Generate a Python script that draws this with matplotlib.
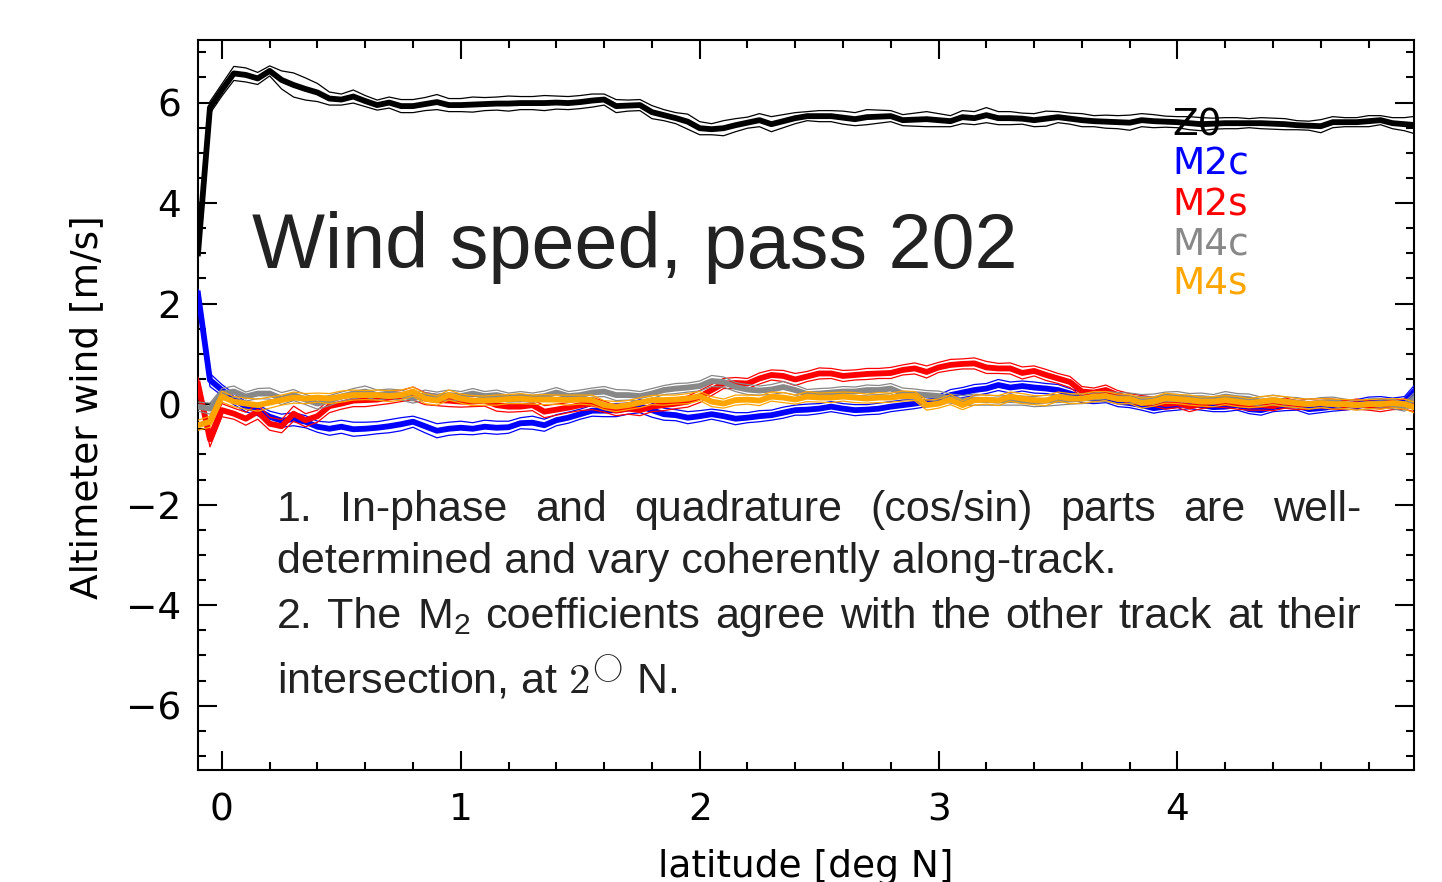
import numpy as np
import matplotlib
matplotlib.use("Agg")
import matplotlib.pyplot as plt
from matplotlib.ticker import MultipleLocator

# ---------------- data (latitude grid every 0.05 deg, -0.1 .. 5.0) ----------------
lat = np.linspace(-0.1, 5.0, 103)

z0 = [3.0, 5.9, 6.25, 6.58, 6.55, 6.48, 6.63, 6.45, 6.35, 6.27,
      6.2, 6.08, 6.06, 6.12, 6.03, 5.95, 6.0, 5.93, 5.93, 5.97,
      6.01, 5.95, 5.95, 5.96, 5.97, 5.98, 5.98, 5.99, 5.99, 5.99,
      6.0, 5.99, 6.01, 6.04, 6.06, 5.93, 5.94, 5.95, 5.81, 5.75,
      5.69, 5.62, 5.49, 5.47, 5.49, 5.55, 5.6, 5.65, 5.57, 5.63,
      5.69, 5.73, 5.73, 5.73, 5.7, 5.67, 5.71, 5.72, 5.73, 5.65,
      5.66, 5.67, 5.65, 5.63, 5.71, 5.69, 5.75, 5.69, 5.69, 5.68,
      5.65, 5.68, 5.71, 5.68, 5.65, 5.63, 5.62, 5.61, 5.6, 5.65,
      5.63, 5.62, 5.61, 5.59, 5.57, 5.58, 5.59, 5.59, 5.59, 5.59,
      5.58, 5.57, 5.55, 5.54, 5.53, 5.61, 5.61, 5.61, 5.63, 5.65,
      5.59, 5.57, 5.55]
m2c = [2.2, 0.48, 0.28, 0.1, -0.05, -0.12, -0.25, -0.33, -0.3, -0.35,
       -0.45, -0.49, -0.45, -0.5, -0.49, -0.47, -0.44, -0.4, -0.35, -0.44,
       -0.53, -0.49, -0.47, -0.49, -0.45, -0.47, -0.46, -0.38, -0.37, -0.42,
       -0.32, -0.27, -0.2, -0.13, -0.13, -0.12, -0.09, -0.04, -0.12, -0.2,
       -0.22, -0.27, -0.24, -0.2, -0.24, -0.29, -0.27, -0.24, -0.22, -0.17,
       -0.12, -0.11, -0.09, -0.05, -0.09, -0.12, -0.11, -0.09, -0.05, -0.02,
       0.01, 0.05, 0.08, 0.18, 0.23, 0.28, 0.31, 0.38, 0.33, 0.36,
       0.33, 0.31, 0.28, 0.21, 0.13, 0.11, 0.13, 0.05, 0.02, -0.02,
       -0.08, -0.05, -0.02, 0.0, -0.02, -0.06, -0.05, -0.02, -0.1, -0.12,
       -0.06, -0.03, -0.03, -0.1, -0.08, -0.05, -0.02, 0.0, 0.05, 0.05,
       0.03, 0.05, 0.3]
m2s = [0.4, -0.7, -0.12, -0.19, -0.29, -0.15, -0.39, -0.44, -0.19, -0.32,
       -0.24, -0.04, 0.01, 0.07, 0.08, 0.09, 0.13, 0.16, 0.21, 0.11,
       0.08, 0.07, 0.05, 0.05, 0.07, -0.02, -0.05, -0.05, -0.02, -0.15,
       -0.11, -0.07, -0.02, 0.01, -0.05, -0.13, -0.09, -0.12, -0.05, -0.02,
       0.01, 0.05, 0.15, 0.28, 0.41, 0.42, 0.41, 0.51, 0.58, 0.56,
       0.49, 0.55, 0.61, 0.61, 0.56, 0.58, 0.6, 0.61, 0.62, 0.68,
       0.71, 0.64, 0.73, 0.78, 0.8, 0.81, 0.73, 0.71, 0.71, 0.62,
       0.66, 0.58, 0.51, 0.44, 0.25, 0.23, 0.28, 0.18, 0.11, 0.08,
       0.05, 0.0, 0.02, -0.05, 0.0, 0.05, 0.02, 0.0, -0.03, -0.02,
       -0.04, 0.02, -0.02, 0.0, 0.02, 0.0, -0.02, 0.0, -0.03, -0.05,
       -0.02, 0.0, -0.05]
m4c = [-0.05, -0.09, 0.21, 0.25, 0.15, 0.21, 0.21, 0.11, 0.18, 0.09,
       0.01, 0.07, 0.15, 0.21, 0.25, 0.18, 0.21, 0.18, 0.11, 0.18,
       0.15, 0.18, 0.16, 0.21, 0.16, 0.18, 0.13, 0.15, 0.13, 0.16,
       0.23, 0.16, 0.18, 0.23, 0.25, 0.18, 0.18, 0.16, 0.21, 0.28,
       0.31, 0.33, 0.36, 0.46, 0.44, 0.34, 0.29, 0.27, 0.29, 0.34,
       0.28, 0.2, 0.21, 0.23, 0.25, 0.25, 0.28, 0.28, 0.31, 0.21,
       0.2, 0.18, 0.16, 0.11, 0.07, 0.09, 0.08, 0.07, 0.08, 0.07,
       0.05, 0.07, 0.08, 0.09, 0.11, 0.13, 0.15, 0.12, 0.12, 0.1,
       0.1, 0.15, 0.15, 0.12, 0.12, 0.1, 0.15, 0.12, 0.1, 0.05,
       0.08, 0.05, 0.03, 0.0, 0.03, 0.05, 0.0, -0.02, 0.0, 0.02,
       0.0, -0.05, 0.15]
m4s = [-0.42, -0.35, 0.15, 0.05, 0.01, -0.02, 0.03, 0.08, 0.13, 0.11,
       0.13, 0.11, 0.15, 0.18, 0.18, 0.18, 0.16, 0.18, 0.25, 0.11,
       0.07, 0.18, 0.11, 0.07, 0.07, 0.08, 0.1, 0.11, 0.09, 0.09,
       0.09, 0.08, 0.09, 0.08, -0.02, -0.05, -0.02, 0.03, 0.08, 0.08,
       0.09, 0.11, 0.16, 0.05, 0.01, 0.08, 0.09, 0.07, 0.15, 0.13,
       0.09, 0.15, 0.13, 0.13, 0.15, 0.13, 0.11, 0.13, 0.13, 0.16,
       0.16, -0.02, 0.01, 0.09, -0.02, 0.08, 0.09, 0.07, 0.15, 0.11,
       0.08, 0.07, 0.15, 0.11, 0.11, 0.15, 0.16, 0.1, 0.1, 0.02,
       0.05, 0.12, 0.1, 0.08, 0.05, 0.05, 0.08, 0.05, 0.02, 0.05,
       0.08, 0.05, 0.02, 0.0, 0.02, 0.0, 0.0, -0.02, 0.0, 0.0,
       0.02, 0.0, -0.08]

# half-width of the thin bounding lines
sp_z0 = [0.06, 0.12, 0.12, 0.14, 0.14, 0.12, 0.1, 0.18, 0.24, 0.22,
         0.18, 0.13, 0.11, 0.13, 0.11, 0.1, 0.11, 0.13, 0.13, 0.13,
         0.15, 0.13, 0.13, 0.15, 0.13, 0.13, 0.15, 0.13, 0.13, 0.15,
         0.13, 0.13, 0.13, 0.13, 0.11, 0.13, 0.11, 0.11, 0.13, 0.11,
         0.11, 0.15, 0.13, 0.11, 0.15, 0.13, 0.11, 0.13, 0.15, 0.13,
         0.11, 0.09, 0.11, 0.11, 0.13, 0.13, 0.15, 0.13, 0.11, 0.11,
         0.13, 0.15, 0.13, 0.11, 0.13, 0.13, 0.15, 0.13, 0.13, 0.11,
         0.13, 0.15, 0.11, 0.11, 0.13, 0.11, 0.13, 0.13, 0.15, 0.13,
         0.13, 0.11, 0.11, 0.13, 0.13, 0.11, 0.11, 0.11, 0.09, 0.11,
         0.11, 0.11, 0.09, 0.09, 0.13, 0.11, 0.09, 0.09, 0.11, 0.09,
         0.11, 0.13, 0.18]
sp_m2c = [0.08, 0.13, 0.11, 0.11, 0.1, 0.11, 0.11, 0.13, 0.13, 0.12,
          0.11, 0.13, 0.13, 0.14, 0.13, 0.12, 0.13, 0.13, 0.11, 0.13,
          0.14, 0.13, 0.13, 0.12, 0.13, 0.13, 0.12, 0.11, 0.13, 0.12,
          0.11, 0.11, 0.1, 0.11, 0.12, 0.13, 0.11, 0.13, 0.14, 0.12,
          0.11, 0.12, 0.11, 0.1, 0.11, 0.12, 0.1, 0.11, 0.1, 0.11,
          0.1, 0.11, 0.1, 0.1, 0.1, 0.11, 0.1, 0.11, 0.1, 0.1,
          0.1, 0.1, 0.1, 0.11, 0.1, 0.11, 0.1, 0.11, 0.11, 0.1,
          0.11, 0.1, 0.11, 0.1, 0.1, 0.1, 0.1, 0.1, 0.09, 0.1,
          0.1, 0.09, 0.1, 0.09, 0.1, 0.09, 0.1, 0.1, 0.09, 0.1,
          0.09, 0.1, 0.09, 0.1, 0.09, 0.09, 0.1, 0.09, 0.09, 0.1,
          0.09, 0.1, 0.12]
sp_m2s = [0.13, 0.15, 0.13, 0.11, 0.13, 0.15, 0.13, 0.13, 0.15, 0.13,
          0.12, 0.13, 0.11, 0.12, 0.13, 0.11, 0.12, 0.11, 0.13, 0.12,
          0.11, 0.12, 0.11, 0.1, 0.11, 0.12, 0.11, 0.1, 0.11, 0.12,
          0.11, 0.1, 0.11, 0.12, 0.11, 0.1, 0.11, 0.11, 0.1, 0.11,
          0.1, 0.11, 0.12, 0.11, 0.1, 0.11, 0.1, 0.11, 0.1, 0.11,
          0.12, 0.1, 0.11, 0.1, 0.11, 0.1, 0.11, 0.1, 0.11, 0.1,
          0.11, 0.12, 0.1, 0.11, 0.1, 0.11, 0.12, 0.1, 0.11, 0.12,
          0.1, 0.11, 0.1, 0.11, 0.1, 0.09, 0.1, 0.09, 0.1, 0.09,
          0.09, 0.1, 0.09, 0.1, 0.09, 0.1, 0.09, 0.1, 0.09, 0.1,
          0.09, 0.1, 0.09, 0.1, 0.09, 0.1, 0.09, 0.1, 0.09, 0.1,
          0.09, 0.1, 0.11]
sp_m4c = [0.09, 0.11, 0.1, 0.11, 0.09, 0.1, 0.11, 0.12, 0.11, 0.1,
          0.11, 0.1, 0.09, 0.1, 0.11, 0.1, 0.09, 0.1, 0.09, 0.1,
          0.09, 0.1, 0.09, 0.1, 0.09, 0.1, 0.09, 0.1, 0.09, 0.1,
          0.1, 0.09, 0.1, 0.09, 0.1, 0.11, 0.1, 0.09, 0.1, 0.09,
          0.1, 0.09, 0.1, 0.11, 0.1, 0.09, 0.1, 0.09, 0.1, 0.11,
          0.1, 0.09, 0.1, 0.09, 0.1, 0.09, 0.1, 0.09, 0.1, 0.11,
          0.1, 0.09, 0.1, 0.09, 0.1, 0.11, 0.1, 0.09, 0.1, 0.09,
          0.1, 0.11, 0.1, 0.09, 0.1, 0.09, 0.1, 0.11, 0.1, 0.09,
          0.1, 0.09, 0.1, 0.09, 0.1, 0.09, 0.1, 0.09, 0.1, 0.09,
          0.1, 0.09, 0.1, 0.09, 0.1, 0.09, 0.1, 0.09, 0.1, 0.09,
          0.09, 0.09, 0.11]
sp_m4s = [0.1, 0.11, 0.11, 0.1, 0.11, 0.12, 0.11, 0.1, 0.11, 0.1,
          0.09, 0.1, 0.11, 0.1, 0.09, 0.1, 0.11, 0.1, 0.09, 0.1,
          0.09, 0.1, 0.09, 0.1, 0.09, 0.1, 0.09, 0.1, 0.09, 0.1,
          0.09, 0.1, 0.09, 0.1, 0.09, 0.1, 0.09, 0.1, 0.09, 0.1,
          0.09, 0.1, 0.09, 0.1, 0.09, 0.1, 0.09, 0.1, 0.09, 0.1,
          0.09, 0.1, 0.09, 0.1, 0.09, 0.1, 0.09, 0.1, 0.09, 0.1,
          0.09, 0.1, 0.09, 0.1, 0.09, 0.1, 0.09, 0.1, 0.09, 0.1,
          0.09, 0.1, 0.09, 0.1, 0.09, 0.1, 0.09, 0.1, 0.09, 0.1,
          0.09, 0.1, 0.09, 0.1, 0.09, 0.1, 0.09, 0.1, 0.09, 0.1,
          0.09, 0.1, 0.09, 0.1, 0.09, 0.1, 0.09, 0.1, 0.09, 0.1,
          0.09, 0.1, 0.11]

names = ["Z0", "M2c", "M2s", "M4c", "M4s"]
series = [z0, m2c, m2s, m4c, m4s]
spreads = [sp_z0, sp_m2c, sp_m2s, sp_m4c, sp_m4s]
colors = ["black", "#0000ff", "#ff0000", "#888888", "#ffa500"]

title_text = "Wind speed, pass 202"
note_line1 = ["1.", "In-phase", "and", "quadrature", "(cos/sin)", "parts", "are", "well-"]
note_line2 = "determined and vary coherently along-track."
note_line3 = ["2.", "The", "M$_2$", "coefficients", "agree", "with", "the", "other", "track", "at", "their"]
note_line4 = r"intersection, at $2^{\bigcirc}$ N."

# ---------------- figure ----------------
plt.rcParams["mathtext.fontset"] = "custom"
plt.rcParams["mathtext.rm"] = "Liberation Sans"
plt.rcParams["mathtext.it"] = "Liberation Sans:italic"
plt.rcParams["font.family"] = ["DejaVu Sans"]

W, H = 1442, 882
fig = plt.figure(figsize=(W / 100, H / 100), dpi=100)
ax = fig.add_axes([198 / W, 1 - 770 / H, (1414 - 198) / W, (770 - 40) / H])

for k, (vals, sp, col) in enumerate(zip(series, spreads, colors)):
    v = np.asarray(vals)
    s = np.asarray(sp)
    z = 2 + k
    ax.plot(lat, v + s, color=col, lw=0.9, zorder=z)
    ax.plot(lat, v - s, color=col, lw=0.9, zorder=z)
    ax.plot(lat, v, color=col, lw=4.2, zorder=z + 0.5)

ax.set_xlim(-0.1, 4.99)
ax.set_ylim(-7.28, 7.245)
ax.xaxis.set_major_locator(MultipleLocator(1))
ax.xaxis.set_minor_locator(MultipleLocator(0.2))
ax.yaxis.set_major_locator(MultipleLocator(2))
ax.yaxis.set_minor_locator(MultipleLocator(0.5))
ax.tick_params(which="both", direction="in", top=True, right=True, width=1.5,
               labelsize=27, colors="black")
ax.tick_params(which="major", length=13.5)
ax.tick_params(which="minor", length=6)
ax.tick_params(axis="x", which="major", pad=16)
ax.tick_params(axis="y", which="major", pad=12)
for sp_ in ax.spines.values():
    sp_.set_linewidth(1.5)

ax.set_ylabel("Altimeter wind [m/s]", fontsize=27)
ax.yaxis.set_label_coords(-0.0765, 0.497)
ax.set_xlabel("latitude [deg N]", fontsize=27)
ax.xaxis.set_label_coords(0.5, -0.108)

# legend-like labels
leg_y = [5.35, 4.56, 3.76, 2.97, 2.21]
for name, col, yy in zip(names, colors, leg_y):
    ax.text(3.98, yy, name, color=col, fontsize=27, va="baseline", ha="left", zorder=20)

# title text
ax.text(0.126, 2.71, title_text, fontsize=55.7, family="Liberation Sans",
        color="#222222", va="baseline", ha="left", zorder=20)

# notes
note_kw = dict(fontsize=31, family="Liberation Sans", color="#222222",
               va="baseline", ha="left", zorder=20)
x_left, x_right = 0.230, 4.770
fig.canvas.draw()
renderer = fig.canvas.get_renderer()


def justified(words, y):
    objs = [ax.text(x_left, y, w, **note_kw) for w in words]
    widths = [o.get_window_extent(renderer).width for o in objs]
    X0 = ax.transData.transform((x_left, y))[0]
    X1 = ax.transData.transform((x_right, y))[0]
    gap = (X1 - X0 - sum(widths)) / (len(words) - 1)
    pos = X0
    inv = ax.transData.inverted()
    for o, w in zip(objs, widths):
        o.set_x(inv.transform((pos, 0))[0])
        pos += w + gap


justified(note_line1, -2.33)
ax.text(x_left, -3.36, note_line2, **note_kw)
justified(note_line3, -4.46)
ax.text(x_left, -5.75, note_line4, math_fontfamily="cm", **note_kw)

fig.savefig("out.png", dpi=100)
